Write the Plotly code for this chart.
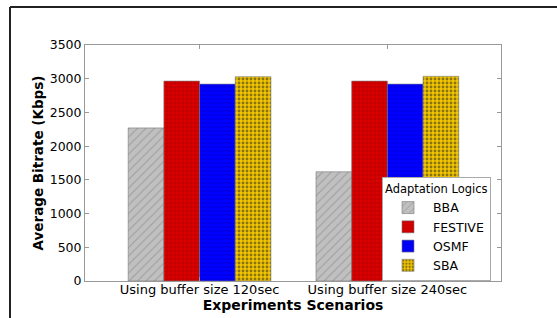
import plotly.graph_objects as go

categories = ["Using buffer size 120sec", "Using buffer size 240sec"]
series_names = ["BBA", "FESTIVE", "OSMF", "SBA"]
bba = [2270, 1620]
festive = [2965, 2965]
osmf = [2920, 2920]
sba = [3030, 3035]
y_ticks = [0, 500, 1000, 1500, 2000, 2500, 3000, 3500]

values = [bba, festive, osmf, sba]
styles = [
    dict(color="#c0c0c0", shape="/", fg="#7a7a7a", size=6, sol=0.18),
    dict(color="#dd0000", shape="+", fg="#8a0000", size=4, sol=0.35),
    dict(color="#0000ff", shape="-", fg="#0000aa", size=4, sol=0.2),
    dict(color="#f2c500", shape=".", fg="#222222", size=4, sol=0.4),
]

fig = go.Figure()
xs = [0, 1]
for name, vals, st in zip(series_names, values, styles):
    fig.add_trace(go.Bar(
        name=name, x=xs, y=vals,
        marker=dict(color=st["color"],
                    line=dict(color="#777777", width=0.6),
                    pattern=dict(shape=st["shape"], fgcolor=st["fg"], bgcolor=st["color"],
                                 size=st["size"], solidity=st["sol"], fillmode="overlay")),
    ))

L, R, T, B = 85, 56, 45, 37
W, H = 557, 318
pw, ph = W - L - R, H - T - B
def px(x):
    return (x - L) / pw
def py(y):
    return (H - B - y) / ph

font = "DejaVu Sans"
fig.update_layout(
    width=W, height=H,
    margin=dict(l=L, r=R, t=T, b=B, autoexpand=False),
    paper_bgcolor="white", plot_bgcolor="white",
    barmode="group", bargap=0.24, bargroupgap=0,
    font=dict(family=font, size=12, color="black"),
    showlegend=True,
    legend=dict(
        x=px(382), y=py(177), xanchor="left", yanchor="top",
        bgcolor="white", bordercolor="#aaaaaa", borderwidth=1,
        font=dict(family=font, size=12.5, color="black"),
        title=dict(text="Adaptation Logics", font=dict(family=font, size=11.5, color="black")),
        tracegroupgap=0, itemwidth=40,
    ),
    xaxis=dict(
        range=[-0.61, 1.605], tickmode="array", tickvals=xs, ticktext=categories,
        showline=True, linecolor="#999999", linewidth=1, mirror="ticks",
        ticks="inside", ticklen=4, tickcolor="#999999",
        showgrid=False, zeroline=False, automargin=False,
        ticklabelstandoff=-4,
        tickfont=dict(family=font, size=13, color="black"),
        title=dict(text="<b>Experiments Scenarios</b>", standoff=0,
                   font=dict(family=font, size=14, color="black")),
    ),
    yaxis=dict(
        range=[0, 3500], tickmode="array", tickvals=y_ticks,
        ticktext=[str(v) for v in y_ticks],
        showline=True, linecolor="#999999", linewidth=1, mirror="ticks",
        ticks="inside", ticklen=4, tickcolor="#999999",
        showgrid=False, zeroline=False, automargin=False,
        tickfont=dict(family=font, size=12.5, color="black"),
        title=dict(text="<b>Average Bitrate (Kbps)</b>", standoff=2,
                   font=dict(family=font, size=13.5, color="black")),
    ),
    shapes=[
        dict(type="line", xref="paper", yref="paper", x0=px(10), x1=px(W + 5),
             y0=py(7), y1=py(7), line=dict(color="#222222", width=2)),
        dict(type="line", xref="paper", yref="paper", x0=px(10), x1=px(10),
             y0=py(7), y1=py(H + 5), line=dict(color="#222222", width=2)),
    ],
)

fig.write_html("out.html", config={"displayModeBar": False},
               post_script="document.body.style.margin='0';document.body.style.overflow='hidden';")
